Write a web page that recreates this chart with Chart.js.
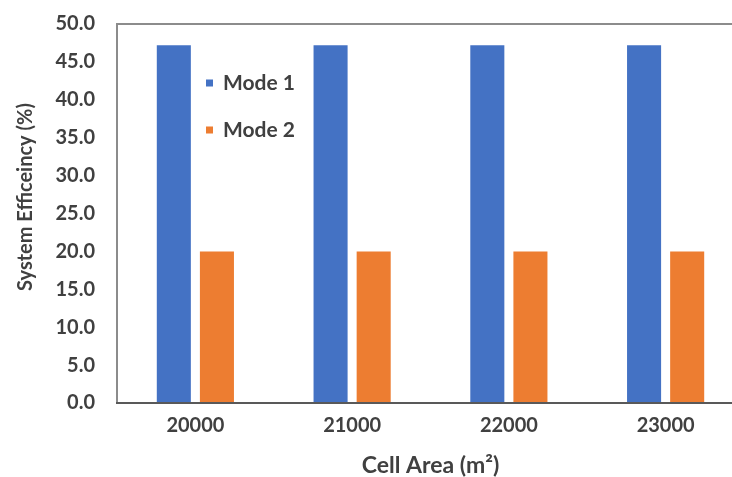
<!DOCTYPE html>
<html>
<head>
<meta charset="utf-8">
<script src="https://cdn.jsdelivr.net/npm/chart.js@4.4.1/dist/chart.umd.min.js"></script>
<style>
  html, body { margin: 0; padding: 0; background: #ffffff; overflow: hidden; width: 732px; height: 477px; }
  #wrap { position: relative; width: 746px; height: 477px; }
</style>
</head>
<body>
<div id="wrap"><canvas id="c" width="746" height="477"></canvas></div>
<script>
const categories = ["20000", "21000", "22000", "23000"];
const seriesNames = ["Mode 1", "Mode 2"];
const mode1 = [47.2, 47.2, 47.2, 47.2];
const mode2 = [20.0, 20.0, 20.0, 20.0];
const yTicks = [0, 5, 10, 15, 20, 25, 30, 35, 40, 45, 50];
const xTitle = "Cell Area (m²)";
const yTitle = "System Efficeincy (%)";

const FONT = "Lato, 'Open Sans', sans-serif";
const TXT = "#404040";

const framePlugin = {
  id: "frame",
  beforeDatasetsDraw(chart) {
    const {ctx, chartArea: a} = chart;
    ctx.save();
    ctx.strokeStyle = "#8c8c8c";
    ctx.lineWidth = 2;
    ctx.beginPath();
    ctx.moveTo(a.left, a.bottom);
    ctx.lineTo(a.left, a.top);
    ctx.lineTo(a.right + 2, a.top);
    ctx.stroke();
    ctx.restore();
  },
  afterDatasetsDraw(chart) {
    const {ctx, chartArea: a} = chart;
    ctx.save();
    ctx.strokeStyle = "#595959";
    ctx.lineWidth = 2;
    ctx.beginPath();
    ctx.moveTo(a.left - 1, a.bottom);
    ctx.lineTo(a.right + 2, a.bottom);
    ctx.stroke();
    ctx.restore();
  }
};

const legendPlugin = {
  id: "innerLegend",
  afterDraw(chart) {
    const {ctx, chartArea: a} = chart;
    ctx.save();
    ctx.font = "bold 21px " + FONT;
    ctx.textBaseline = "middle";
    ctx.textAlign = "left";
    chart.data.datasets.forEach((ds, i) => {
      const y = a.top + 59 + i * 47;
      const x = a.left + 89;
      ctx.fillStyle = ds.backgroundColor;
      ctx.fillRect(x, y - 3.5, 7, 7);
      ctx.fillStyle = TXT;
      ctx.fillText(ds.label, x + 17, y);
    });
    // rotated y-axis title
    ctx.font = "bold 20px " + FONT;
    ctx.textAlign = "center";
    ctx.fillStyle = TXT;
    ctx.translate(26, a.top + 173);
    ctx.rotate(-Math.PI / 2);
    ctx.fillText(yTitle, 0, 0);
    ctx.restore();
  }
};

new Chart(document.getElementById("c"), {
  type: "bar",
  data: {
    labels: categories,
    datasets: [
      { label: seriesNames[0], data: mode1, backgroundColor: "#4472C4" },
      { label: seriesNames[1], data: mode2, backgroundColor: "#ED7D31" }
    ]
  },
  plugins: [framePlugin, legendPlugin],
  options: {
    responsive: false,
    animation: false,
    events: [],
    layout: { padding: { top: 24, right: 2, bottom: 0, left: 0 } },
    plugins: { legend: { display: false }, tooltip: { enabled: false } },
    datasets: { bar: { categoryPercentage: 0.55, barPercentage: 0.79 } },
    scales: {
      x: {
        grid: { display: false, drawTicks: false },
        border: { display: false },
        ticks: { color: TXT, font: { family: FONT, size: 20, weight: "bold" }, padding: 11, maxRotation: 0 },
        title: { display: true, text: xTitle, color: TXT, font: { family: FONT, size: 23, weight: "bold", lineHeight: 1.0 }, padding: { top: 0, bottom: 0 } },
        afterFit(s) { s.height = 74; s.paddingLeft = 0; s.paddingRight = 0; }
      },
      y: {
        min: 0, max: 50,
        grid: { display: false, drawTicks: false },
        border: { display: false },
        afterBuildTicks(s) { s.ticks = yTicks.map(v => ({ value: v })); },
        ticks: { color: TXT, font: { family: FONT, size: 20, weight: "bold" }, padding: 22,
                 callback: v => Number(v).toFixed(1) },
        afterFit(s) { s.width = 117; s.paddingTop = 0; s.paddingBottom = 0; }
      }
    }
  }
});
</script>
</body>
</html>
